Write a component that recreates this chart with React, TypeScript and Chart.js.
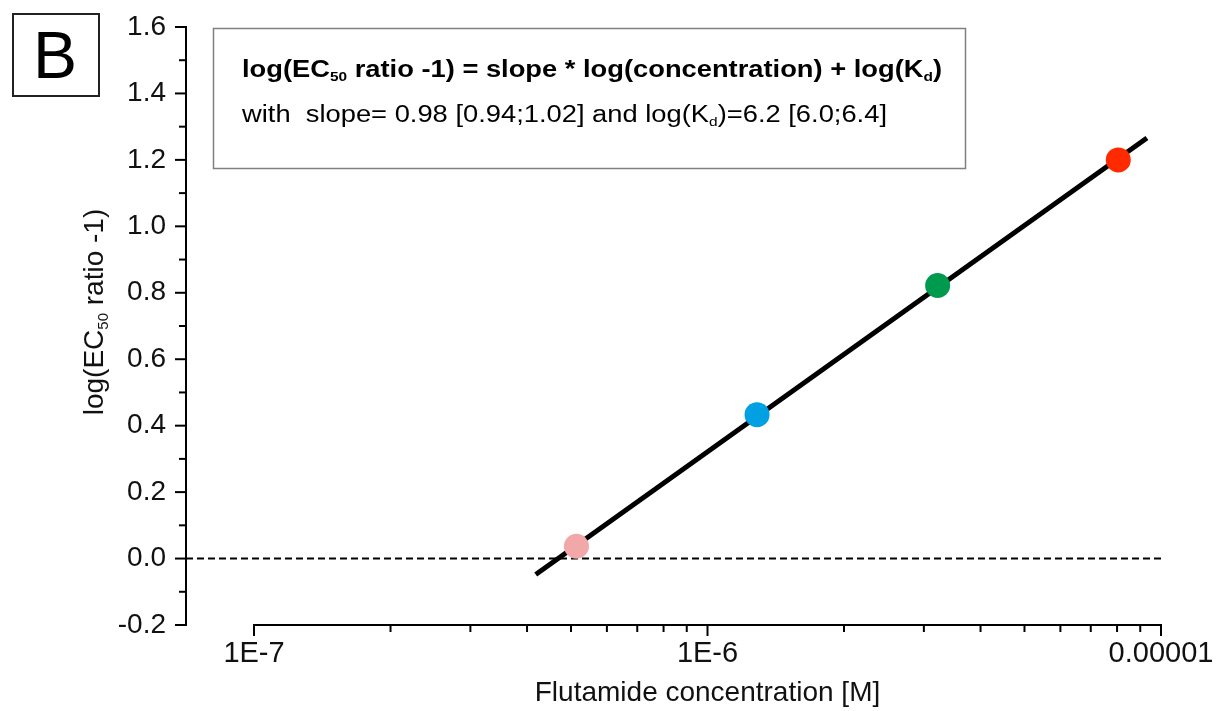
import React, { useEffect, useRef } from 'react';
import { Chart, registerables } from 'chart.js';

Chart.register(...registerables);

// ---- data ----
const concentrations = [5.14e-7, 1.286e-6, 3.217e-6, 8.05e-6];
const logRatios = [0.037, 0.433, 0.822, 1.2];
const pointColors = ['#F2A7A8', '#00A0E2', '#009A4E', '#FF2A00'];

const fitX = [4.18e-7, 9.31e-6];
const fitY = [-0.048, 1.266];

const xTickValues = [1e-7, 1e-6, 1e-5];
const xTickLabels = ['1E-7', '1E-6', '0.00001'];
const yTickValues = [-0.2, 0, 0.2, 0.4, 0.6, 0.8, 1.0, 1.2, 1.4, 1.6];
const yTickLabels = ['-0.2', '0.0', '0.2', '0.4', '0.6', '0.8', '1.0', '1.2', '1.4', '1.6'];

const xMin = 7.08e-8;
const xMax = 1e-5;
const yMin = -0.2;
const yMax = 1.6;

const xTitle = 'Flutamide concentration [M]';
const panelLabel = 'B';

const FONT = "'Liberation Sans', Arial, Helvetica, sans-serif";

type Part = { t: string; sub?: boolean };

const yTitleParts: Part[] = [{ t: 'log(EC' }, { t: '50', sub: true }, { t: ' ratio -1)' }];
const boxLine1: Part[] = [
  { t: 'log(EC' },
  { t: '50', sub: true },
  { t: ' ratio -1) = slope * log(concentration) + log(K' },
  { t: 'd', sub: true },
  { t: ')' },
];
const boxLine2: Part[] = [
  { t: 'with  slope= 0.98 [0.94;1.02] and log(K' },
  { t: 'd', sub: true },
  { t: ')=6.2 [6.0;6.4]' },
];

function richWidth(ctx: CanvasRenderingContext2D, parts: Part[], size: number, weight: string) {
  let w = 0;
  for (const p of parts) {
    ctx.font = `${weight} ${p.sub ? Math.round(size * 0.55) : size}px ${FONT}`;
    w += ctx.measureText(p.t).width;
  }
  return w;
}

function drawRich(
  ctx: CanvasRenderingContext2D,
  parts: Part[],
  x: number,
  y: number,
  size: number,
  weight: string
) {
  let cx = x;
  for (const p of parts) {
    const s = p.sub ? Math.round(size * 0.55) : size;
    ctx.font = `${weight} ${s}px ${FONT}`;
    ctx.fillText(p.t, cx, p.sub ? y + size * 0.18 : y);
    cx += ctx.measureText(p.t).width;
  }
}

// draws rich text stretched horizontally to a target width
function drawRichFit(
  ctx: CanvasRenderingContext2D,
  parts: Part[],
  x: number,
  y: number,
  size: number,
  weight: string,
  targetW: number
) {
  const w = richWidth(ctx, parts, size, weight);
  const sx = targetW / w;
  ctx.save();
  ctx.translate(x, y);
  ctx.scale(sx, 1);
  drawRich(ctx, parts, 0, 0, size, weight);
  ctx.restore();
}

const decorPlugin = {
  id: 'decor',
  beforeDatasetsDraw(chart: any) {
    const { ctx } = chart;
    const xs = chart.scales.x;
    const ys = chart.scales.y;
    const y0 = ys.getPixelForValue(0);
    ctx.save();
    ctx.strokeStyle = '#000';
    ctx.lineWidth = 2;
    ctx.setLineDash([7, 4]);
    ctx.beginPath();
    ctx.moveTo(xs.getPixelForValue(xMin), y0);
    ctx.lineTo(xs.getPixelForValue(xMax), y0);
    ctx.stroke();
    ctx.restore();
  },
  afterDraw(chart: any) {
    const { ctx } = chart;
    const xs = chart.scales.x;
    const ys = chart.scales.y;
    ctx.save();
    ctx.strokeStyle = '#000';
    ctx.lineWidth = 2;
    ctx.lineCap = 'butt';

    // y axis
    const ax = xs.getPixelForValue(xMin);
    const yTop = ys.getPixelForValue(yMax);
    const yBot = ys.getPixelForValue(yMin);
    ctx.beginPath();
    ctx.moveTo(ax, yTop - 1);
    ctx.lineTo(ax, yBot + 1);
    ctx.stroke();
    for (const v of yTickValues) {
      const py = ys.getPixelForValue(v);
      ctx.beginPath();
      ctx.moveTo(ax - 11, py);
      ctx.lineTo(ax, py);
      ctx.stroke();
    }
    for (let i = 0; i < yTickValues.length - 1; i++) {
      const py = ys.getPixelForValue((yTickValues[i] + yTickValues[i + 1]) / 2);
      ctx.beginPath();
      ctx.moveTo(ax - 7, py);
      ctx.lineTo(ax, py);
      ctx.stroke();
    }

    // x axis
    const ay = ys.getPixelForValue(yMin);
    const xl = xs.getPixelForValue(xTickValues[0]);
    const xr = xs.getPixelForValue(xTickValues[xTickValues.length - 1]);
    ctx.beginPath();
    ctx.moveTo(xl - 1, ay);
    ctx.lineTo(xr + 1, ay);
    ctx.stroke();
    for (const v of xTickValues) {
      const px = xs.getPixelForValue(v);
      ctx.beginPath();
      ctx.moveTo(px, ay);
      ctx.lineTo(px, ay + 11);
      ctx.stroke();
    }
    for (let d = 0; d < xTickValues.length - 1; d++) {
      for (let k = 2; k <= 9; k++) {
        const px = xs.getPixelForValue(xTickValues[d] * k);
        ctx.beginPath();
        ctx.moveTo(px, ay);
        ctx.lineTo(px, ay + 7);
        ctx.stroke();
      }
    }

    // axis titles
    ctx.fillStyle = '#111';
    ctx.textBaseline = 'alphabetic';
    ctx.textAlign = 'left';
    ctx.font = `28px ${FONT}`;
    const tw = ctx.measureText(xTitle).width;
    ctx.fillText(xTitle, (xl + xr) / 2 - tw / 2, 701);

    ctx.save();
    ctx.translate(103, 312);
    ctx.rotate(-Math.PI / 2);
    const yw = richWidth(ctx, yTitleParts, 28, 'normal');
    drawRich(ctx, yTitleParts, -yw / 2, 0, 28, 'normal');
    ctx.restore();

    // equation box
    ctx.strokeStyle = '#808080';
    ctx.lineWidth = 1.5;
    ctx.strokeRect(213.5, 28.5, 752, 140);
    ctx.fillStyle = '#000';
    drawRichFit(ctx, boxLine1, 242, 77, 23, 'bold', 700);
    drawRichFit(ctx, boxLine2, 242, 122, 23, 'normal', 645);

    // panel label
    ctx.strokeStyle = '#222';
    ctx.lineWidth = 2;
    ctx.strokeRect(13, 14, 86, 82);
    ctx.font = `66px ${FONT}`;
    ctx.textAlign = 'center';
    ctx.textBaseline = 'alphabetic';
    ctx.fillText(panelLabel, 55, 78);

    ctx.restore();
  },
};

export default function App() {
  const canvasRef = useRef<HTMLCanvasElement | null>(null);

  useEffect(() => {
    if (!canvasRef.current) return;
    const chart = new Chart(canvasRef.current, {
      type: 'scatter',
      data: {
        datasets: [
          {
            label: 'data',
            data: concentrations.map((c, i) => ({ x: c, y: logRatios[i] })),
            pointRadius: 12.5,
            pointHoverRadius: 12.5,
            pointBackgroundColor: pointColors,
            pointBorderWidth: 0,
            showLine: false,
            clip: false,
            order: 0,
          },
          {
            label: 'fit',
            data: fitX.map((c, i) => ({ x: c, y: fitY[i] })),
            showLine: true,
            borderColor: '#000',
            borderWidth: 5,
            pointRadius: 0,
            clip: false,
            order: 1,
          },
        ],
      },
      options: {
        animation: false,
        responsive: true,
        maintainAspectRatio: false,
        events: [],
        layout: { padding: { top: 27, right: 59, left: 0, bottom: 0 } },
        plugins: { legend: { display: false }, tooltip: { enabled: false } },
        scales: {
          x: {
            type: 'logarithmic',
            min: xMin,
            max: xMax,
            grid: { display: false, drawTicks: false, tickLength: 0 },
            border: { display: false },
            afterBuildTicks: (s: any) => {
              s.ticks = xTickValues.map((v) => ({ value: v }));
            },
            afterFit: (s: any) => {
              s.height = 86;
              s.paddingLeft = 0;
              s.paddingRight = 0;
            },
            ticks: {
              autoSkip: false,
              maxRotation: 0,
              padding: 12,
              color: '#111',
              font: { family: FONT, size: 29 },
              callback: (_v: any, i: number) => xTickLabels[i],
            },
          },
          y: {
            type: 'linear',
            min: yMin,
            max: yMax,
            grid: { display: false, drawTicks: false, tickLength: 0 },
            border: { display: false },
            afterBuildTicks: (s: any) => {
              s.ticks = yTickValues.map((v) => ({ value: v }));
            },
            afterFit: (s: any) => {
              s.width = 186;
              s.paddingTop = 0;
              s.paddingBottom = 0;
            },
            ticks: {
              autoSkip: false,
              padding: 20,
              color: '#111',
              font: { family: FONT, size: 28 },
              callback: (_v: any, i: number) => yTickLabels[i],
            },
          },
        },
      },
      plugins: [decorPlugin],
    } as any);
    return () => chart.destroy();
  }, []);

  return (
    <div style={{ position: 'absolute', left: 0, top: 0, width: 1220, height: 711, background: '#fff' }}>
      <canvas ref={canvasRef} />
    </div>
  );
}
